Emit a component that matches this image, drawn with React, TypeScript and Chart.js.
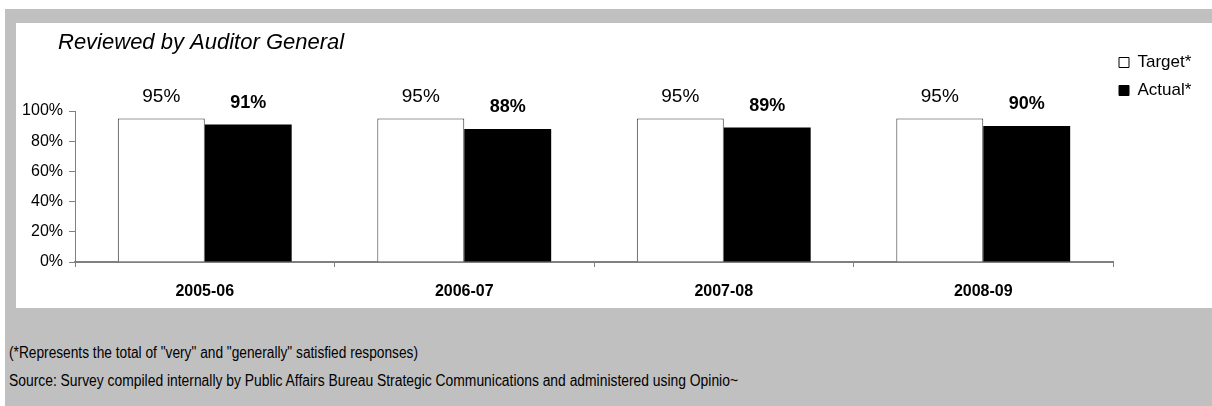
import React, { useEffect, useLayoutEffect, useRef } from 'react';
import { Chart, registerables } from 'chart.js';

Chart.register(...registerables);

// ---- data ----
const categories = ['2005-06', '2006-07', '2007-08', '2008-09'];
const targetValues = [95, 95, 95, 95];
const actualValues = [91, 88, 89, 90];
const yTickValues = [0, 20, 40, 60, 80, 100];
const seriesNames = ['Target*', 'Actual*'];
const chartTitle = 'Reviewed by Auditor General';
const footnotes = [
  '(*Represents the total of "very" and "generally" satisfied responses)',
  'Source: Survey compiled internally by Public Affairs Bureau Strategic Communications and administered using Opinio~',
];

// ---- style / layout ----
const FONT = "'Liberation Sans', Arial, Helvetica, sans-serif";
const CANVAS_W = 1196;
const CANVAS_H = 285;
const AXIS_GRAY = '#808080';

const placeBoxesPlugin = {
  id: 'placeBoxes',
  afterLayout(chart: any) {
    if (chart.legend) {
      chart.legend.left = 1092;
      chart.legend.top = 20;
    }
    if (chart.titleBlock) {
      chart.titleBlock.left = 42;
    }
  },
};

const valueLabelsPlugin = {
  id: 'valueLabels',
  afterDatasetsDraw(chart: any) {
    const ctx = chart.ctx;
    chart.data.datasets.forEach((ds: any, i: number) => {
      const meta = chart.getDatasetMeta(i);
      ctx.save();
      ctx.font = i === 1 ? 'bold 18px ' + FONT : '19px ' + FONT;
      ctx.fillStyle = '#000';
      ctx.textAlign = 'center';
      ctx.textBaseline = 'middle';
      meta.data.forEach((el: any, j: number) => {
        ctx.fillText(ds.data[j] + '%', el.x, el.y - 22);
      });
      ctx.restore();
    });
  },
};

function FitText({ text, width, top }: { text: string; width: number; top: number }) {
  const ref = useRef<HTMLSpanElement>(null);
  useLayoutEffect(() => {
    const fit = () => {
      const el = ref.current;
      if (!el) return;
      el.style.transform = 'none';
      const w = el.getBoundingClientRect().width;
      if (w > 0) el.style.transform = `scaleX(${width / w})`;
    };
    fit();
    if ((document as any).fonts && (document as any).fonts.ready) {
      (document as any).fonts.ready.then(fit);
    }
  }, [text, width]);
  return (
    <span
      ref={ref}
      style={{
        position: 'absolute',
        left: 9,
        top,
        whiteSpace: 'nowrap',
        fontFamily: FONT,
        fontSize: 16,
        lineHeight: '18px',
        color: '#000',
        transformOrigin: '0 0',
      }}
    >
      {text}
    </span>
  );
}

export default function App() {
  const canvasRef = useRef<HTMLCanvasElement>(null);

  useEffect(() => {
    document.body.style.margin = '0';
    const canvas = canvasRef.current;
    if (!canvas) return;
    const chart = new Chart(canvas, {
      type: 'bar',
      data: {
        labels: categories,
        datasets: [
          {
            label: seriesNames[0],
            data: targetValues,
            backgroundColor: '#ffffff',
            borderColor: '#333333',
            borderWidth: 1,
            categoryPercentage: 0.67,
            barPercentage: 1.0,
          },
          {
            label: seriesNames[1],
            data: actualValues,
            backgroundColor: '#000000',
            borderColor: '#000000',
            borderWidth: 0,
            categoryPercentage: 0.67,
            barPercentage: 1.0,
          },
        ],
      },
      options: {
        responsive: false,
        animation: false,
        devicePixelRatio: 1,
        layout: { padding: { left: 0, right: 9, top: 0, bottom: 0 } },
        plugins: {
          title: {
            display: true,
            text: chartTitle,
            align: 'start',
            color: '#000',
            font: { family: FONT, size: 22, style: 'italic', weight: 'normal', lineHeight: 1.2 },
            padding: { top: 7, bottom: 54.6 },
          },
          legend: {
            display: true,
            position: 'right',
            align: 'start',
            maxWidth: 90,
            labels: {
              boxWidth: 10,
              boxHeight: 10,
              padding: 11,
              color: '#000',
              font: { family: FONT, size: 17 },
              generateLabels: (chart: any) =>
                chart.data.datasets.map((ds: any, i: number) => ({
                  text: ds.label,
                  fillStyle: ds.backgroundColor,
                  strokeStyle: '#000',
                  lineWidth: 1,
                  datasetIndex: i,
                  hidden: false,
                })),
            },
          },
          tooltip: { enabled: false },
        },
        scales: {
          x: {
            type: 'category',
            offset: true,
            afterFit: (scale: any) => {
              scale.height = 46;
            },
            grid: {
              display: true,
              offset: true,
              drawOnChartArea: false,
              drawTicks: true,
              tickLength: 5,
              color: AXIS_GRAY,
            },
            border: { display: true, color: AXIS_GRAY, width: 2 },
            ticks: {
              color: '#000',
              padding: 15,
              font: { family: FONT, size: 16, weight: 'bold' },
            },
          },
          y: {
            min: 0,
            max: 100,
            afterBuildTicks: (scale: any) => {
              scale.ticks = yTickValues.map((v) => ({ value: v }));
            },
            afterFit: (scale: any) => {
              scale.width = 59;
            },
            grid: {
              display: true,
              drawOnChartArea: false,
              drawTicks: true,
              tickLength: 6,
              color: AXIS_GRAY,
            },
            border: { display: true, color: AXIS_GRAY, width: 1 },
            ticks: {
              color: '#000',
              padding: 6,
              font: { family: FONT, size: 16 },
              callback: (v: any) => v + '%',
            },
          },
        },
      } as any,
      plugins: [placeBoxesPlugin, valueLabelsPlugin],
    });
    return () => chart.destroy();
  }, []);

  return (
    <div style={{ position: 'relative', width: 1212, height: 406, background: '#fff', overflow: 'hidden' }}>
      <div style={{ position: 'absolute', left: 5, top: 9, right: 0, bottom: 0, background: '#c0c0c0' }} />
      <div
        style={{
          position: 'absolute',
          left: 16,
          top: 23,
          width: CANVAS_W,
          height: CANVAS_H,
          background: '#fff',
        }}
      >
        <canvas ref={canvasRef} width={CANVAS_W} height={CANVAS_H} style={{ display: 'block' }} />
      </div>
      <FitText text={footnotes[0]} width={409} top={344} />
      <FitText text={footnotes[1]} width={729} top={372} />
    </div>
  );
}
